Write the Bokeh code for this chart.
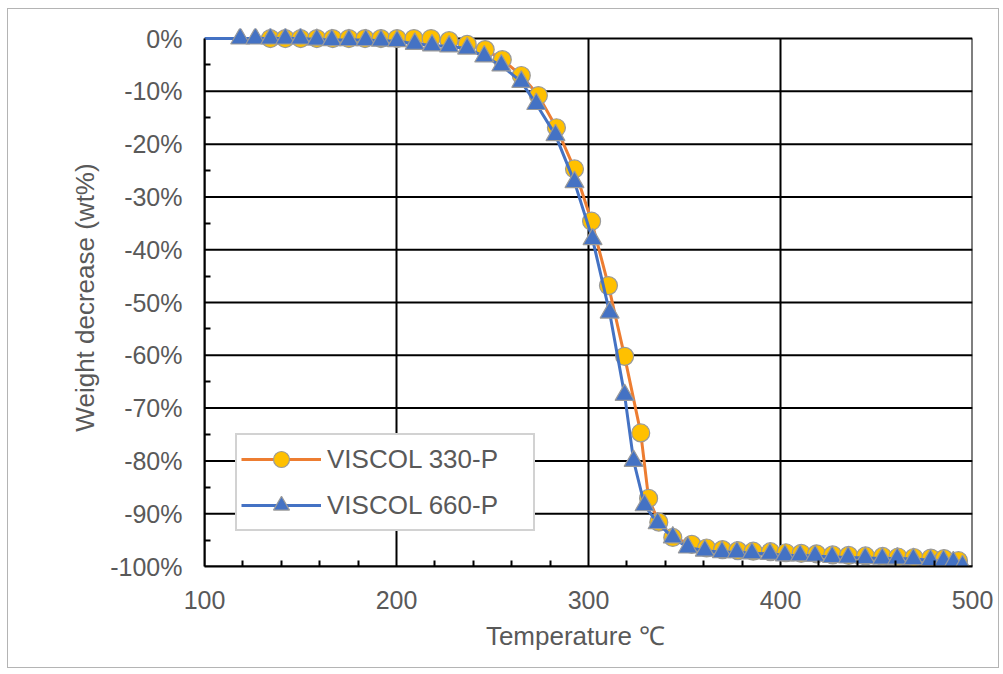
from bokeh.plotting import figure
from bokeh.models import FixedTicker, Range1d, Legend, LegendItem
from bokeh.embed import file_html
from bokeh.resources import INLINE

# ---- data ----
temp_330 = [134.3, 142.1, 150.1, 158.5, 166.8, 175.2, 183.6, 191.9, 200.3, 209.1,
            218.0, 227.4, 236.8, 246.2, 255.1, 265.0, 273.9, 283.3, 292.7, 301.6,
            310.4, 318.8, 327.2, 331.3, 336.6, 343.9, 353.8, 361.5, 369.8, 377.8,
            385.8, 394.8, 402.8, 410.8, 418.8, 427.2, 435.5, 444.3, 453.2, 461.2,
            469.5, 478.3, 485.2, 492.7]
wt_330 = [0.0, 0.0, 0.0, 0.0, 0.0, 0.0, 0.0, 0.0, 0.0, 0.0,
          0.0, -0.4, -1.1, -2.1, -4.0, -7.0, -10.8, -16.9, -24.7, -34.6,
          -46.8, -60.2, -74.7, -87.1, -91.6, -94.5, -95.8, -96.5, -96.8, -97.0,
          -97.1, -97.2, -97.4, -97.5, -97.6, -97.8, -97.9, -98.0, -98.1, -98.2,
          -98.3, -98.4, -98.5, -98.9]

temp_660_start = 100.0
wt_660_start = 0.0
temp_660 = [118.6, 126.5, 134.3, 142.1, 150.0, 158.5, 166.3, 175.2, 184.0, 191.9,
            200.3, 209.5, 218.5, 227.4, 236.8, 245.7, 254.6, 265.0, 272.8, 282.8,
            292.7, 302.1, 311.0, 318.8, 323.5, 329.2, 336.0, 343.9, 351.7, 360.6,
            369.5, 377.3, 385.1, 394.5, 402.3, 410.2, 418.0, 426.9, 435.2, 444.1,
            453.0, 460.8, 469.2, 478.1, 484.9, 490.0, 494.8]
wt_660 = [0.0, 0.0, 0.0, 0.0, 0.0, -0.2, -0.3, -0.3, -0.3, -0.4,
          -0.5, -1.0, -1.3, -1.5, -1.9, -3.4, -5.1, -8.2, -12.4, -18.3,
          -27.2, -38.0, -51.9, -67.5, -80.0, -88.4, -91.8, -94.5, -96.4, -97.0,
          -97.3, -97.3, -97.5, -97.6, -97.9, -97.9, -98.0, -98.2, -98.3, -98.4,
          -98.5, -98.5, -98.6, -98.8, -98.9, -99.2, -99.9]

x_min, x_max = 100, 500
y_min, y_max = -100, 0
x_ticks = [100, 200, 300, 400, 500]
x_minor = [120, 140, 160, 180, 220, 240, 260, 280, 320, 340, 360, 380, 420, 440, 460, 480]
y_ticks = [0, -10, -20, -30, -40, -50, -60, -70, -80, -90, -100]
y_tick_labels = ["0%", "-10%", "-20%", "-30%", "-40%", "-50%", "-60%", "-70%", "-80%", "-90%", "-100%"]
y_minor = [-5, -15, -25, -35, -45, -55, -65, -75, -85, -95]

name_330 = "VISCOL 330-P"
name_660 = "VISCOL 660-P"
x_title = "Temperature\u00a0\u2103\u2002\u2002"
y_title = "Weight decrease (wt%)"

FONT = "Liberation Sans"
TXT = "#595959"

# small headroom above 0% so the top row of markers is not clipped
p = figure(width=992, height=660, x_range=Range1d(x_min, x_max), y_range=Range1d(y_min, 1.9),
           output_backend="svg", toolbar_location=None,
           min_border_left=196, min_border_right=28, min_border_top=19, min_border_bottom=103,
           styles={"border": "1px solid #b4b4b4", "margin-left": "7px", "margin-top": "8px"})
p.background_fill_color = "white"
p.border_fill_color = "white"
p.outline_line_color = None
p.xgrid.visible = False
p.ygrid.visible = False

p.xaxis.ticker = FixedTicker(ticks=x_ticks, minor_ticks=x_minor)
p.yaxis.ticker = FixedTicker(ticks=y_ticks, minor_ticks=y_minor)
p.yaxis.major_label_overrides = {t: l for t, l in zip(y_ticks, y_tick_labels)}
p.yaxis.bounds = (y_min, y_max)

for ax in (p.xaxis, p.yaxis):
    ax.axis_line_color = "black"
    ax.axis_line_width = 2
    ax.major_tick_in = 0
    ax.major_tick_out = 0
    ax.minor_tick_in = 6
    ax.minor_tick_out = 0
    ax.minor_tick_line_color = "black"
    ax.minor_tick_line_width = 2
    ax.major_label_text_font = FONT
    ax.major_label_text_font_size = "25px"
    ax.major_label_text_color = TXT
    ax.axis_label_text_font = FONT
    ax.axis_label_text_font_size = "26px"
    ax.axis_label_text_font_style = "normal"
    ax.axis_label_text_color = TXT

p.xaxis.axis_label = x_title
p.yaxis.axis_label = y_title
p.xaxis.major_label_standoff = 24
p.yaxis.major_label_standoff = 22
p.xaxis.axis_label_standoff = 9
p.yaxis.axis_label_standoff = 7

# gridlines (limited to the 0% .. -100% / 100 .. 500 box)
p.segment(x0=x_ticks, y0=[y_min] * len(x_ticks), x1=x_ticks, y1=[y_max] * len(x_ticks),
          line_color="black", line_width=2)
p.segment(x0=[x_min] * len(y_ticks), y0=y_ticks, x1=[x_max] * len(y_ticks), y1=y_ticks,
          line_color="black", line_width=2)

ORANGE = "#ED7D31"
BLUE = "#4472C4"
YELLOW = "#FFC000"
EDGE = "#9a9a9a"

l1 = p.line(temp_330, wt_330, line_color=ORANGE, line_width=3)
s1 = p.scatter(temp_330, wt_330, marker="circle", size=18, fill_color=YELLOW,
               line_color=EDGE, line_width=1.2)
l2 = p.line([temp_660_start] + temp_660, [wt_660_start] + wt_660, line_color=BLUE, line_width=3)
s2 = p.scatter(temp_660, wt_660, marker="triangle", size=19, fill_color=BLUE,
               line_color=EDGE, line_width=1.2)

legend = Legend(items=[LegendItem(label=name_330, renderers=[l1, s1]),
                       LegendItem(label=name_660, renderers=[l2, s2])],
                location=(31, 35))
legend.label_text_font = FONT
legend.label_text_font_size = "26px"
legend.label_text_color = TXT
legend.border_line_color = "#a6a6a6"
legend.border_line_width = 2
legend.background_fill_color = "white"
legend.background_fill_alpha = 1
legend.glyph_width = 80
legend.glyph_height = 40
legend.label_height = 40
legend.label_width = 202
legend.label_standoff = 6
legend.spacing = 6
legend.padding = 4
legend.margin = 0
p.add_layout(legend, "center")

open("out.html", "w").write(file_html(p, INLINE))
